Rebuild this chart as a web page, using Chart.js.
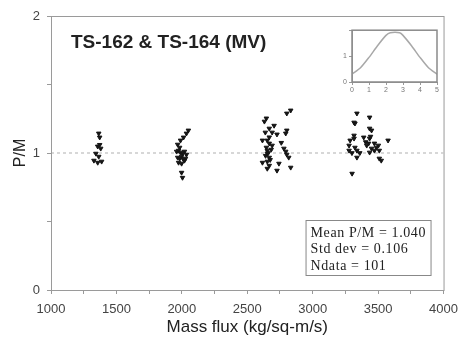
<!DOCTYPE html>
<html>
<head>
<meta charset="utf-8">
<title>P/M vs mass flux</title>
<script src="https://cdn.jsdelivr.net/npm/chart.js@4.4.1/dist/chart.umd.min.js"></script>
<style>
    body { margin: 0; background: #fff; }
    #wrap { position: relative; width: 466px; height: 342px; }
    #mainChart { position: absolute; left: 0; top: 0; }
    #insetChart { position: absolute; left: 338px; top: 24px; }
</style>
</head>
<body>
<div id="wrap">
    <canvas id="mainChart" width="466" height="342"></canvas>
    <canvas id="insetChart" width="104" height="76"></canvas>
</div>
<script>
// Measured points, grouped by test section flux level
const massFlux = [
    1365, 1372, 1357, 1380, 1343, 1365, 1328, 1357, 1387, 1372,
    2035, 2050, 2013, 1990, 1968, 1983, 1960, 1975, 1990, 2005, 2020, 2035,
    1968, 1983, 1998, 2013, 2028, 1975, 1998, 2020, 1998, 2005,
    2646, 2631, 2668, 2690, 2727, 2802, 2832, 2802, 2794, 2616, 2653, 2668,
    2646, 2653, 2780, 2794, 2802, 2817, 2653, 2668, 2653, 2616, 2668, 2742,
    2653, 2727, 2832, 2668, 2660, 2675, 2640, 2690, 2705, 2760, 2683, 2638,
    3338, 3316, 3323, 3435, 3435, 3450, 3316, 3286, 3316, 3390, 3435, 3576,
    3278, 3323, 3413, 3502, 3278, 3338, 3450, 3435, 3472, 3509, 3338, 3509,
    3301, 3524, 3427, 3472, 3487, 3360, 3300, 3442, 3405
];
const pmRatio = [
    1.143, 1.114, 1.048, 1.033, 0.996, 0.974, 0.945, 0.930, 0.938, 1.060,
    1.143, 1.165, 1.114, 1.092, 1.062, 1.040, 1.011, 1.018, 1.004, 0.996, 1.011, 0.989,
    0.967, 0.960, 0.974, 0.952, 0.960, 0.930, 0.923, 0.945, 0.857, 0.820,
    1.253, 1.230, 1.179, 1.150, 1.136, 1.289, 1.311, 1.165, 1.143, 1.092, 1.092, 1.070,
    1.040, 1.018, 1.033, 1.011, 0.989, 0.967, 0.996, 0.967, 0.938, 0.930, 0.908, 0.923,
    0.886, 0.872, 0.894, 1.115, 1.000, 0.950, 0.980, 1.055, 1.200, 1.075, 1.025, 1.150,
    1.289, 1.223, 1.216, 1.260, 1.179, 1.165, 1.128, 1.092, 1.106, 1.114, 1.106, 1.092,
    1.055, 1.040, 1.055, 1.055, 1.018, 1.018, 1.033, 1.004, 1.018, 1.018, 0.967, 0.960,
    0.850, 0.945, 1.070, 1.070, 1.040, 1.000, 1.000, 1.120, 1.080
];

// Unity reference line
const refFlux = [1000, 4000];
const refRatio = [1, 1];

// Axial power shape shown in the inset
const shapeX = [0, 0.5, 1.0, 1.5, 2.0, 2.25, 2.8, 3.0, 3.5, 4.0, 4.5, 5.0];
const shapeY = [0.3, 0.55, 0.95, 1.4, 1.8, 1.9, 1.9, 1.8, 1.4, 0.95, 0.55, 0.3];

const plotTitle = 'TS-162 & TS-164 (MV)';
const statLines = ['Mean P/M = 1.040', 'Std dev = 0.106', 'Ndata = 101'];

const FRAME = '#9a9a9a';
const TICK_TEXT = '#444';

// Frame, title and stats box on top of the main plot
const decorations = {
    id: 'decorations',
    afterDraw(chart) {
        const { ctx, chartArea: a } = chart;
        ctx.save();
        ctx.strokeStyle = FRAME;
        ctx.lineWidth = 1;
        ctx.strokeRect(a.left + 0.5, a.top + 0.5, a.right - a.left, a.bottom - a.top);

        ctx.fillStyle = '#222';
        ctx.font = 'bold 19px "Liberation Sans", Arial, sans-serif';
        ctx.textBaseline = 'middle';
        ctx.fillText(plotTitle, a.left + 20, a.top + 27);

        const bx = a.right - 138, by = a.bottom - 70, bw = 125, bh = 55;
        ctx.fillStyle = '#fff';
        ctx.fillRect(bx, by, bw, bh);
        ctx.strokeStyle = '#888';
        ctx.strokeRect(bx + 0.5, by + 0.5, bw, bh);
        ctx.fillStyle = '#222';
        ctx.font = '14px "Liberation Serif", "Times New Roman", serif';
        ctx.letterSpacing = '0.6px';
        statLines.forEach((line, i) => {
            ctx.fillText(line, bx + 5, by + 13 + i * 16.5);
        });
        ctx.restore();
    }
};

const mainChart = new Chart(document.getElementById('mainChart'), {
    type: 'scatter',
    data: {
        datasets: [
            {
                data: massFlux.map((x, i) => ({ x: x, y: pmRatio[i] })),
                pointStyle: 'triangle',
                rotation: 180,
                radius: 2.6,
                backgroundColor: '#151515',
                borderColor: '#151515',
                borderWidth: 1
            },
            {
                type: 'line',
                data: refFlux.map((x, i) => ({ x: x, y: refRatio[i] })),
                borderColor: '#b0b0b0',
                borderWidth: 1,
                borderDash: [3, 3],
                pointRadius: 0,
                order: 2
            }
        ]
    },
    plugins: [decorations],
    options: {
        responsive: false,
        animation: false,
        layout: { padding: { top: 16, right: 12, left: 0, bottom: 0 } },
        plugins: {
            legend: { display: false },
            tooltip: { enabled: false }
        },
        scales: {
            x: {
                type: 'linear',
                min: 1000,
                max: 4000,
                afterFit(scale) { scale.height = 52; },
                ticks: {
                    stepSize: 250,
                    autoSkip: false,
                    maxRotation: 0,
                    padding: 8,
                    color: TICK_TEXT,
                    font: { family: '"Liberation Sans", Arial, sans-serif', size: 13 },
                    callback: (v) => (v % 500 === 0 ? v : '')
                },
                grid: { drawOnChartArea: false, tickLength: 4, color: FRAME },
                border: { color: FRAME },
                title: {
                    display: true,
                    text: 'Mass flux (kg/sq-m/s)',
                    color: '#222',
                    padding: { top: 0, bottom: 4 },
                    font: { family: '"Liberation Sans", Arial, sans-serif', size: 17 }
                }
            },
            y: {
                min: 0,
                max: 2,
                afterFit(scale) { scale.width = 51; },
                ticks: {
                    stepSize: 0.5,
                    padding: 7,
                    color: TICK_TEXT,
                    font: { family: '"Liberation Sans", Arial, sans-serif', size: 13 },
                    callback: (v) => (Number.isInteger(v) ? v : '')
                },
                grid: { drawOnChartArea: false, tickLength: 4, color: FRAME },
                border: { color: FRAME },
                title: {
                    display: true,
                    text: 'P/M',
                    color: '#222',
                    padding: { top: 11, bottom: 0 },
                    font: { family: '"Liberation Sans", Arial, sans-serif', size: 16 }
                }
            }
        }
    }
});

// Inset: boxed power shape
const insetFrame = {
    id: 'insetFrame',
    afterDraw(chart) {
        const { ctx, chartArea: a } = chart;
        ctx.save();
        ctx.strokeStyle = '#8a8a8a';
        ctx.lineWidth = 1.5;
        ctx.strokeRect(a.left, a.top, a.right - a.left, a.bottom - a.top);
        ctx.restore();
    }
};

const smallTicks = { color: '#777', font: { family: '"Liberation Sans", Arial, sans-serif', size: 7 } };

const insetChart = new Chart(document.getElementById('insetChart'), {
    type: 'line',
    data: {
        datasets: [{
            data: shapeX.map((x, i) => ({ x: x, y: shapeY[i] })),
            borderColor: '#a8a8a8',
            borderWidth: 1.5,
            pointRadius: 0,
            tension: 0.25
        }]
    },
    plugins: [insetFrame],
    options: {
        responsive: false,
        animation: false,
        layout: { padding: { top: 3, right: 5, left: 0, bottom: 0 } },
        plugins: { legend: { display: false }, tooltip: { enabled: false } },
        scales: {
            x: {
                type: 'linear',
                min: 0,
                max: 5,
                afterFit(scale) { scale.height = 18; },
                ticks: { ...smallTicks, stepSize: 1, maxRotation: 0, padding: 1 },
                grid: { drawOnChartArea: false, tickLength: 3, color: '#999' },
                border: { color: '#999' }
            },
            y: {
                min: 0,
                max: 2,
                afterFit(scale) { scale.width = 14; },
                ticks: { ...smallTicks, stepSize: 1, padding: 2, callback: (v) => (v < 2 ? v : '') },
                grid: { drawOnChartArea: false, tickLength: 3, color: '#999' },
                border: { color: '#999' }
            }
        }
    }
});
</script>
</body>
</html>
